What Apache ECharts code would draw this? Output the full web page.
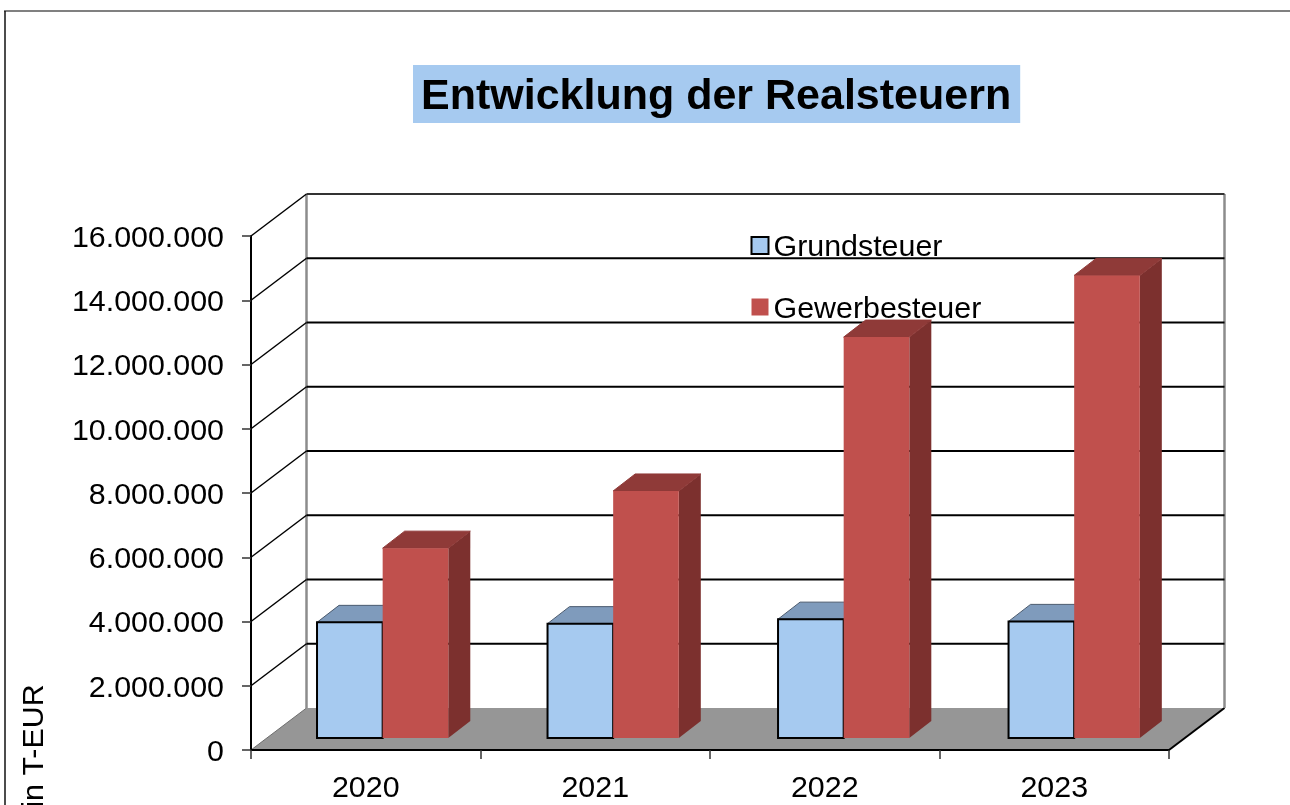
<html>
<head>
    <meta charset="utf-8">
    <title>Entwicklung der Realsteuern</title>
    <script src="https://cdn.jsdelivr.net/npm/echarts@6/dist/echarts.min.js"></script>
    <style>
        html, body { margin: 0; padding: 0; background: #fff; overflow: hidden; }
    </style>
</head>
<body>
<div id="main" style="width: 1290px;height:805px;"></div>
<script type="text/javascript">
    // Werte
    var years = ['2020', '2021', '2022', '2023'];
    var grundsteuer = [3600000, 3560000, 3700000, 3630000];
    var gewerbesteuer = [5910000, 7690000, 12480000, 14400000];
    var yTicks = [0, 2000000, 4000000, 6000000, 8000000, 10000000, 12000000, 14000000, 16000000];

    // Tiefe des 3D-Effekts in Pixeln
    var wallDx = 55.5, wallDy = -42;
    var barDx = 22, barDy = -17;
    var gapDx = 16.4, gapDy = -12;
    var barShare = 0.286;
    var spread = 1.0044;

    function dots(v) {
        return '{n|' + String(v).replace(/\B(?=(\d{3})+(?!\d))/g, '.') + '}';
    }

    function renderFloor(params, api) {
        var c = params.coordSys;
        var y0 = api.coord([0, 0])[1];
        var x0 = c.x, x1 = c.x + c.width;
        return {
            type: 'group',
            children: [{
                type: 'polygon',
                shape: { points: [[x0, y0], [x1, y0], [x1 + wallDx, y0 + wallDy], [x0 + wallDx, y0 + wallDy]] },
                style: { fill: '#969696' }
            }, {
                type: 'line',
                shape: { x1: x1, y1: y0, x2: x1 + wallDx, y2: y0 + wallDy },
                style: { stroke: '#000', lineWidth: 2 }
            }, {
                type: 'line',
                shape: { x1: x0, y1: y0, x2: x0 + wallDx, y2: y0 + wallDy },
                style: { stroke: '#6e6e6e', lineWidth: 1 }
            }, {
                type: 'line',
                shape: { x1: x0 + wallDx, y1: y0 + wallDy, x2: x0 + wallDx, y2: c.y + wallDy },
                style: { stroke: '#8c8c8c', lineWidth: 2.5 }
            }, {
                type: 'line',
                shape: { x1: x1 + wallDx, y1: y0 + wallDy, x2: x1 + wallDx, y2: c.y + wallDy },
                style: { stroke: '#8c8c8c', lineWidth: 2.5 }
            }]
        };
    }

    function renderGrid(params, api) {
        var v = api.value(0);
        if (v === 0) return;
        var c = params.coordSys;
        var y = api.coord([0, v])[1];
        return {
            type: 'group',
            children: [{
                type: 'line',
                shape: { x1: c.x, y1: y, x2: c.x + wallDx, y2: y + wallDy },
                style: { stroke: '#000', lineWidth: 1.5 }
            }, {
                type: 'line',
                shape: { x1: c.x + wallDx, y1: y + wallDy, x2: c.x + c.width + wallDx, y2: y + wallDy },
                style: { stroke: v === 16000000 ? '#333' : '#000', lineWidth: 2 }
            }]
        };
    }

    function barFaces(params, api, left, faces) {
        var c = params.coordSys;
        var band = api.size([1, 0])[0];
        var w = band * barShare;
        var top = api.coord([api.value(0), api.value(1)]);
        var base = api.coord([api.value(0), 0]);
        var mid = c.x + (top[0] - c.x) * spread + gapDx;
        var x0 = left ? mid - w : mid, x1 = x0 + w;
        var yt = top[1] + gapDy, yb = base[1] + gapDy;
        return {
            type: 'group',
            children: [{
                type: 'polygon',
                shape: { points: [[x1, yt], [x1 + barDx, yt + barDy], [x1 + barDx, yb + barDy], [x1, yb]] },
                style: { fill: faces.side }
            }, {
                type: 'polygon',
                shape: { points: [[x0, yt], [x0 + barDx, yt + barDy], [x1 + barDx, yt + barDy], [x1, yt]] },
                style: { fill: faces.top, stroke: faces.edge, lineWidth: 1 }
            }, {
                type: 'rect',
                shape: { x: x0, y: yt, width: w, height: yb - yt },
                style: { fill: faces.front, stroke: faces.line, lineWidth: faces.lineWidth }
            }]
        };
    }

    var blueFaces = { front: '#A6CAF0', top: '#7F9BBC', side: '#6B84A3', edge: '#4a5a6e', line: '#000', lineWidth: 2 };
    var redFaces = { front: '#C0504D', top: '#8F3A38', side: '#7C302E', edge: '#8F3A38', line: null, lineWidth: 0 };

    var myChart = echarts.init(document.getElementById('main'));

    myChart.setOption({
        backgroundColor: '#fff',
        animation: false,
        title: {
            text: 'Entwicklung der Realsteuern',
            left: 413,
            top: 65,
            padding: [11, 9, 4, 8],
            backgroundColor: '#A6CAF0',
            textStyle: { fontFamily: 'Liberation Sans', fontWeight: 'bold', fontSize: 43, color: '#000' }
        },
        legend: {
            orient: 'vertical',
            left: 745.5,
            top: 228,
            itemWidth: 17,
            itemHeight: 17,
            itemGap: 31.5,
            selectedMode: false,
            formatter: '{t|{name}}',
            textStyle: {
                rich: { t: { fontFamily: 'Liberation Sans', fontSize: 30.4, color: '#000', padding: [5, 0, 0, 0] } }
            },
            data: [
                { name: 'Grundsteuer', icon: 'rect', itemStyle: { color: '#A6CAF0', borderColor: '#000', borderWidth: 2 } },
                { name: 'Gewerbesteuer', icon: 'rect', itemStyle: { color: '#C0504D', borderWidth: 0 } }
            ]
        },
        grid: { left: 251, top: 236, width: 918, height: 514 },
        xAxis: {
            type: 'category',
            data: years,
            axisLine: { lineStyle: { color: '#000', width: 2 } },
            axisTick: { show: true, length: 9, lineStyle: { color: '#333', width: 1.5 } },
            axisLabel: { margin: 24, fontFamily: 'Liberation Sans', fontSize: 30.4, color: '#000' }
        },
        yAxis: {
            type: 'value',
            min: 0,
            max: 16000000,
            interval: 2000000,
            splitLine: { show: false },
            axisLine: { show: true, lineStyle: { color: '#000', width: 2 } },
            axisTick: { show: true, length: 9, lineStyle: { color: '#333', width: 1.5 } },
            axisLabel: {
                margin: 27,
                formatter: dots,
                rich: { n: { fontFamily: 'Liberation Sans', fontSize: 30.4, color: '#000', padding: [5, 0, 0, 0] } }
            }
        },
        graphic: [
            { type: 'line', shape: { x1: 4, y1: 11, x2: 1290, y2: 11 }, style: { stroke: '#808080', lineWidth: 2 } },
            { type: 'line', shape: { x1: 5, y1: 11, x2: 5, y2: 805 }, style: { stroke: '#111', lineWidth: 1.5 } },
            {
                type: 'text',
                x: 35,
                y: 746,
                rotation: Math.PI / 2,
                style: { text: 'in T-EUR', fontFamily: 'Liberation Sans', fontSize: 30.4, fill: '#000', align: 'center', verticalAlign: 'middle' }
            }
        ],
        series: [
            {
                type: 'custom',
                name: 'Boden',
                z: -2,
                silent: true,
                data: [[0]],
                renderItem: renderFloor
            },
            {
                type: 'custom',
                name: 'Gitter',
                z: -1,
                silent: true,
                data: yTicks.map(function (t) { return [t]; }),
                encode: { y: 0 },
                renderItem: renderGrid
            },
            {
                type: 'custom',
                name: 'Grundsteuer',
                z: 2,
                itemStyle: { color: '#A6CAF0' },
                data: grundsteuer.map(function (v, i) { return [i, v]; }),
                encode: { x: 0, y: 1 },
                renderItem: function (params, api) { return barFaces(params, api, true, blueFaces); }
            },
            {
                type: 'custom',
                name: 'Gewerbesteuer',
                z: 3,
                itemStyle: { color: '#C0504D' },
                data: gewerbesteuer.map(function (v, i) { return [i, v]; }),
                encode: { x: 0, y: 1 },
                renderItem: function (params, api) { return barFaces(params, api, false, redFaces); }
            }
        ]
    });
</script>
</body>
</html>
